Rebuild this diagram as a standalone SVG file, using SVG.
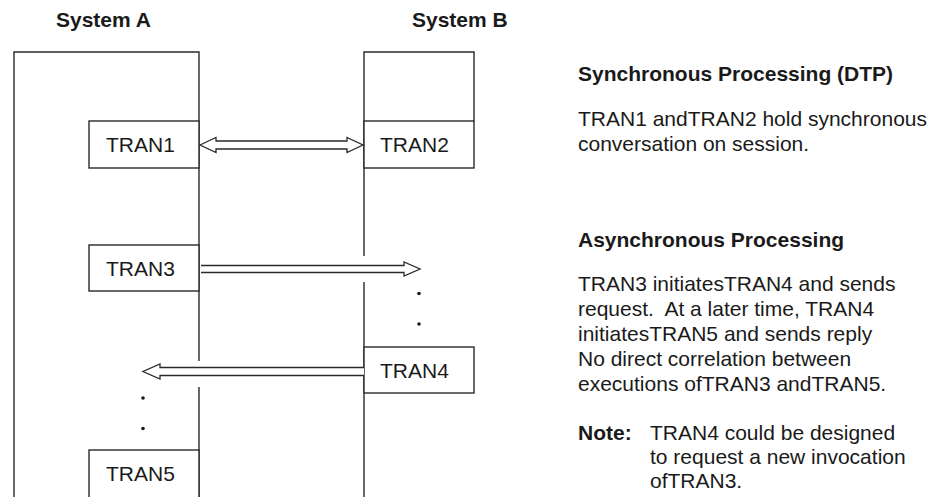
<svg xmlns="http://www.w3.org/2000/svg" width="941" height="497" viewBox="0 0 941 497">
<style>
  .ln { fill: none; stroke: #2a2a2a; stroke-width: 1.4; }
  .box { fill: #ffffff; stroke: #2a2a2a; stroke-width: 1.4; }
  .arr { fill: #ffffff; stroke: #2a2a2a; stroke-width: 1.3; stroke-linejoin: miter; }
  .lbl { font-family: "Liberation Sans", Arial, sans-serif; font-size: 21px; fill: #1a1a1a; }
  .hd { font-family: "Liberation Sans", Arial, sans-serif; font-size: 21px; font-weight: bold; fill: #1a1a1a; }
  .txt { font-family: "Liberation Sans", Arial, sans-serif; font-size: 21px; fill: #1a1a1a; white-space: pre; }
  .dot { fill: #1a1a1a; }
</style>
<rect width="941" height="497" fill="#ffffff"/>

<g id="systemA">
  <text class="hd" x="56" y="27">System A</text>
  <path class="ln" d="M14,497 V52 H199 V361 M199,387 V497"/>
</g>

<g id="systemB">
  <text class="hd" x="412" y="27">System B</text>
  <path class="ln" d="M364,497 V282 M364,256 V52 H474 V121"/>
</g>

<g id="tran1">
  <rect class="box" x="89" y="121" width="110" height="47"/>
  <text class="lbl" x="106" y="152">TRAN1</text>
</g>
<g id="tran2">
  <rect class="box" x="364" y="121" width="110" height="47"/>
  <text class="lbl" x="380" y="152">TRAN2</text>
</g>
<g id="tran3">
  <rect class="box" x="89" y="245" width="110" height="46"/>
  <text class="lbl" x="106" y="276">TRAN3</text>
</g>
<g id="tran4">
  <rect class="box" x="364" y="347" width="110" height="46"/>
  <text class="lbl" x="380" y="378">TRAN4</text>
</g>
<g id="tran5">
  <rect class="box" x="89" y="450" width="110" height="60"/>
  <text class="lbl" x="106" y="481">TRAN5</text>
</g>

<g id="connectors">
  <polygon class="arr" points="200,145 216,137.5 216,141 347,141 347,137.5 363,145 347,152.5 347,149 216,149 216,152.5"/>
  <polyline class="arr" points="201,265.5 404,265.5 404,262 420,269 404,276 404,272.5 201,272.5"/>
  <polyline class="arr" points="364,367.5 160,367.5 160,364 143,371.5 160,379 160,375.5 364,375.5"/>
  <circle class="dot" cx="419" cy="293.5" r="1.8"/>
  <circle class="dot" cx="419" cy="324" r="1.8"/>
  <circle class="dot" cx="143" cy="398" r="1.8"/>
  <circle class="dot" cx="143" cy="428.5" r="1.8"/>
</g>

<g id="notes">
  <text class="hd" x="578" y="81">Synchronous Processing (DTP)</text>
  <text class="txt" x="578" y="126">TRAN1 andTRAN2 hold synchronous</text>
  <text class="txt" x="578" y="151">conversation on session.</text>
  <text class="hd" x="578" y="247">Asynchronous Processing</text>
  <text class="txt" x="578" y="291">TRAN3 initiatesTRAN4 and sends</text>
  <text class="txt" x="578" y="316">request.  At a later time, TRAN4</text>
  <text class="txt" x="578" y="341">initiatesTRAN5 and sends reply</text>
  <text class="txt" x="578" y="366">No direct correlation between</text>
  <text class="txt" x="578" y="391">executions ofTRAN3 andTRAN5.</text>
  <text class="hd" x="578" y="440">Note:</text>
  <text class="txt" x="650" y="440">TRAN4 could be designed</text>
  <text class="txt" x="650" y="464">to request a new invocation</text>
  <text class="txt" x="650" y="488">ofTRAN3.</text>
</g>
</svg>
